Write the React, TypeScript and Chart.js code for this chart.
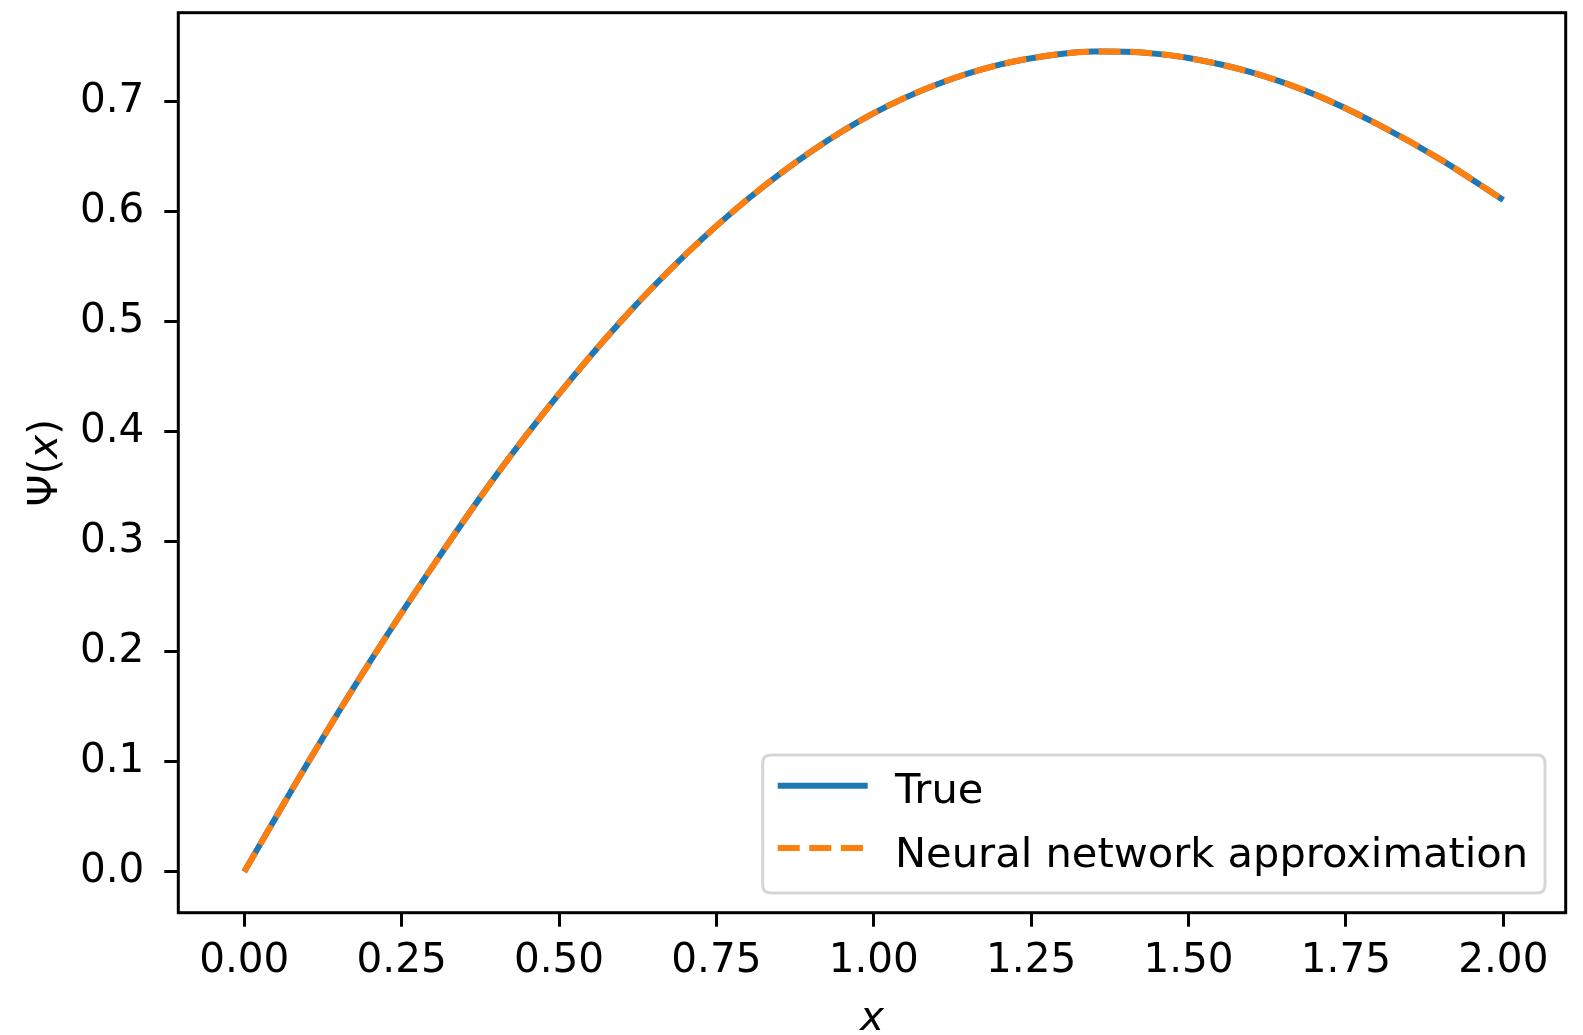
import React, { useEffect, useRef } from 'react';
import { Chart, registerables } from 'chart.js';

Chart.register(...registerables);

// ---- data ----
const xValues = [0.0, 0.1, 0.2, 0.3, 0.4, 0.5, 0.6, 0.7, 0.8, 0.9, 1.0, 1.1, 1.2, 1.3, 1.35, 1.4, 1.45, 1.5, 1.6, 1.7, 1.8, 1.9, 2.0];
const trueValues = [0.0, 0.098, 0.191, 0.278, 0.36, 0.434, 0.501, 0.56, 0.611, 0.654, 0.689, 0.715, 0.733, 0.743, 0.7449, 0.7448, 0.7428, 0.739, 0.726, 0.706, 0.679, 0.647, 0.61];
const nnValues = [0.0, 0.098, 0.191, 0.278, 0.36, 0.434, 0.501, 0.56, 0.611, 0.654, 0.689, 0.715, 0.733, 0.743, 0.7449, 0.7448, 0.7428, 0.739, 0.726, 0.706, 0.679, 0.647, 0.61];
const seriesLabels = ['True', 'Neural network approximation'];
const xTickValues = [0, 0.25, 0.5, 0.75, 1.0, 1.25, 1.5, 1.75, 2.0];
const xTickLabels = ['0.00', '0.25', '0.50', '0.75', '1.00', '1.25', '1.50', '1.75', '2.00'];
const yTickValues = [0, 0.1, 0.2, 0.3, 0.4, 0.5, 0.6, 0.7];
const yTickLabels = ['0.0', '0.1', '0.2', '0.3', '0.4', '0.5', '0.6', '0.7'];
const xAxisTitle = 'x';
const yAxisTitleParts = ['Ψ(', 'x', ')'];

const FONT = "'DejaVu Sans', sans-serif";
const FS = 40.5;
const LFS = 41.6;
const BLUE = '#1f77b4';
const ORANGE = '#ff7f0e';

const decorPlugin = {
  id: 'decor',
  afterDraw(chart: any) {
    const { ctx, chartArea: a } = chart;
    ctx.save();
    // axes frame
    ctx.strokeStyle = '#000';
    ctx.lineWidth = 3;
    ctx.strokeRect(a.left, a.top, a.right - a.left, a.bottom - a.top);

    // x axis title (italic x)
    ctx.fillStyle = '#000';
    ctx.textBaseline = 'alphabetic';
    ctx.textAlign = 'center';
    ctx.font = `oblique ${FS}px ${FONT}`;
    ctx.fillText(xAxisTitle, (a.left + a.right) / 2, 1030);

    // y axis title, rotated
    ctx.save();
    ctx.translate(57, (a.top + a.bottom) / 2);
    ctx.rotate(-Math.PI / 2);
    const fonts = [`${FS}px ${FONT}`, `oblique ${FS}px ${FONT}`, `${FS}px ${FONT}`];
    let total = 0;
    const widths = yAxisTitleParts.map((p, i) => {
      ctx.font = fonts[i];
      const w = ctx.measureText(p).width;
      total += w;
      return w;
    });
    let cx = -total / 2;
    ctx.textAlign = 'left';
    yAxisTitleParts.forEach((p, i) => {
      ctx.font = fonts[i];
      ctx.fillText(p, cx, 0);
      cx += widths[i];
    });
    ctx.restore();

    // legend
    const bx1 = a.right - 20.7;
    const by1 = a.bottom - 19.7;
    const bx0 = 762.7;
    const by0 = 755;
    const r = 8;
    ctx.beginPath();
    ctx.moveTo(bx0 + r, by0);
    ctx.lineTo(bx1 - r, by0);
    ctx.quadraticCurveTo(bx1, by0, bx1, by0 + r);
    ctx.lineTo(bx1, by1 - r);
    ctx.quadraticCurveTo(bx1, by1, bx1 - r, by1);
    ctx.lineTo(bx0 + r, by1);
    ctx.quadraticCurveTo(bx0, by1, bx0, by1 - r);
    ctx.lineTo(bx0, by0 + r);
    ctx.quadraticCurveTo(bx0, by0, bx0 + r, by0);
    ctx.closePath();
    ctx.fillStyle = 'rgba(255,255,255,0.8)';
    ctx.fill();
    ctx.strokeStyle = 'rgba(204,204,204,0.8)';
    ctx.lineWidth = 3;
    ctx.stroke();

    const ds = chart.data.datasets;
    const rows = [785.7, 848];
    const base = [803.3, 866.7];
    ds.forEach((d: any, i: number) => {
      ctx.beginPath();
      ctx.strokeStyle = d.borderColor;
      ctx.lineWidth = 6;
      ctx.setLineDash(d.borderDash || []);
      ctx.lineCap = 'butt';
      ctx.moveTo(bx0 + 15, rows[i]);
      ctx.lineTo(bx0 + 105, rows[i]);
      ctx.stroke();
      ctx.setLineDash([]);
      ctx.fillStyle = '#000';
      ctx.font = `${LFS}px ${FONT}`;
      ctx.textAlign = 'left';
      ctx.textBaseline = 'alphabetic';
      ctx.fillText(d.label, 895, base[i]);
    });
    ctx.restore();
  },
};

export default function App() {
  const ref = useRef<HTMLCanvasElement>(null);
  useEffect(() => {
    const chart = new Chart(ref.current as HTMLCanvasElement, {
      type: 'line',
      data: {
        datasets: [
          {
            label: seriesLabels[0],
            data: xValues.map((x, i) => ({ x, y: trueValues[i] })),
            borderColor: BLUE,
            borderWidth: 6,
            pointRadius: 0,
            cubicInterpolationMode: 'monotone',
            order: 2,
          },
          {
            label: seriesLabels[1],
            data: xValues.map((x, i) => ({ x, y: nnValues[i] })),
            borderColor: ORANGE,
            borderWidth: 6,
            borderDash: [22, 9.6],
            pointRadius: 0,
            cubicInterpolationMode: 'monotone',
            order: 1,
          },
        ],
      },
      options: {
        animation: false,
        responsive: false,
        devicePixelRatio: 1,
        layout: { padding: { left: 0, top: 12.7, right: 17.3, bottom: 0 } },
        plugins: { legend: { display: false }, tooltip: { enabled: false } },
        scales: {
          x: {
            type: 'linear',
            min: -0.1048,
            max: 2.0991,
            afterFit: (s: any) => { s.height = 122.3; s.paddingLeft = 0; s.paddingRight = 0; s.paddingTop = 0; s.paddingBottom = 0; },
            afterBuildTicks: (s: any) => { s.ticks = xTickValues.map((v) => ({ value: v })); },
            grid: { drawOnChartArea: false, drawTicks: true, tickLength: 14, tickWidth: 3, tickColor: '#000' },
            border: { display: false },
            ticks: {
              padding: 10,
              maxRotation: 0,
              autoSkip: false,
              color: '#000',
              font: { family: FONT, size: FS },
              callback: (v: any) => { const i = xTickValues.findIndex((t) => Math.abs(t - v) < 1e-9); return i >= 0 ? xTickLabels[i] : ''; },
            },
          },
          y: {
            type: 'linear',
            min: -0.0372,
            max: 0.7802,
            afterFit: (s: any) => { s.width = 178.3; s.paddingLeft = 0; s.paddingRight = 0; s.paddingTop = 0; s.paddingBottom = 0; },
            afterBuildTicks: (s: any) => { s.ticks = yTickValues.map((v) => ({ value: v })); },
            grid: { drawOnChartArea: false, drawTicks: true, tickLength: 14, tickWidth: 3, tickColor: '#000' },
            border: { display: false },
            ticks: {
              padding: 20,
              autoSkip: false,
              color: '#000',
              font: { family: FONT, size: FS },
              callback: (v: any) => { const i = yTickValues.findIndex((t) => Math.abs(t - v) < 1e-9); return i >= 0 ? yTickLabels[i] : ''; },
            },
          },
        },
      },
      plugins: [decorPlugin],
    } as any);
    return () => chart.destroy();
  }, []);
  return (
    <div style={{ position: 'absolute', left: 0, top: 0, width: 1583, height: 1035, background: '#fff' }}>
      <canvas ref={ref} width={1583} height={1035} style={{ display: 'block' }} />
    </div>
  );
}
